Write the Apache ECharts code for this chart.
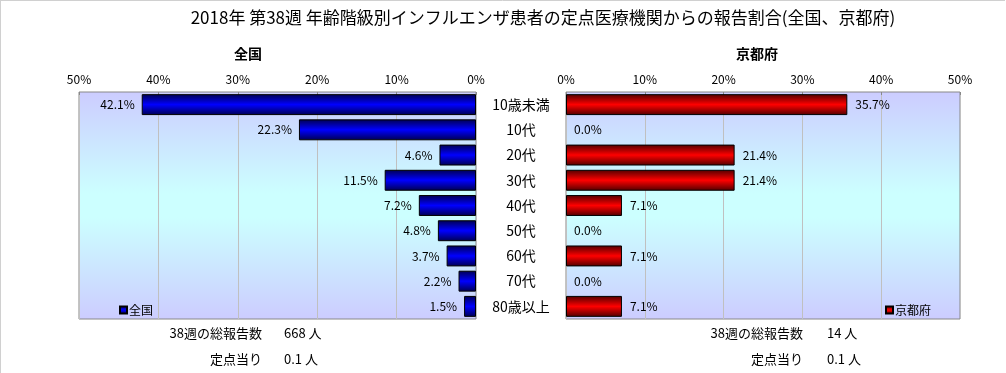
<!DOCTYPE html>
<html>
<head>
<meta charset="utf-8">
<script src="https://cdn.jsdelivr.net/npm/echarts@6/dist/echarts.min.js"></script>
<style>
html,body{margin:0;padding:0;background:#fff;}
#c{width:1006px;height:373px;}
</style>
</head>
<body>
<div id="c"></div>
<script>
var categories = ['10歳未満','10代','20代','30代','40代','50代','60代','70代','80歳以上'];
var nationalValues = [42.1,22.3,4.6,11.5,7.2,4.8,3.7,2.2,1.5];
var kyotoValues = [35.7,0.0,21.4,21.4,7.1,0.0,7.1,0.0,7.1];
var axisTicks = [0,10,20,30,40,50];
var titleText = '2018年 第38週 年齢階級別インフルエンザ患者の定点医療機関からの報告割合(全国、京都府)';
var nationalTotal = '668 人';
var nationalPer = '0.1 人';
var kyotoTotal = '14 人';
var kyotoPer = '0.1 人';

var FONT = '"Noto Sans CJK JP", "Noto Sans", sans-serif';
var chart = echarts.init(document.getElementById('c'), null, {renderer:'canvas'});

function bgGrad(){
  return new echarts.graphic.LinearGradient(0,0,0,1,[
    {offset:0,color:'#ccccff'},{offset:0.45,color:'#ccffff'},{offset:0.55,color:'#ccffff'},{offset:1,color:'#ccccff'}]);
}
function barGrad(dark, bright){
  return new echarts.graphic.LinearGradient(0,0,0,1,[
    {offset:0,color:dark},{offset:0.5,color:bright},{offset:1,color:dark}]);
}
function toItems(arr){
  return arr.map(function(v){
    return v === 0 ? {value:v, itemStyle:{borderWidth:0, color:'rgba(0,0,0,0)'}} : {value:v};
  });
}
var pctFmt = function(p){ return p.value.toFixed(1) + '%'; };

var xAxisCommon = {
  type:'value', position:'top', min:0, max:axisTicks[axisTicks.length-1], interval:10,
  axisLine:{show:false},
  axisTick:{show:true, inside:true, length:3, lineStyle:{color:'#888'}},
  splitLine:{show:true, lineStyle:{color:'#c0c0c0', width:1}},
  axisLabel:{formatter:'{value}%', fontSize:12, color:'#000', margin:7, fontFamily:FONT}
};

var option = {
  animation:false,
  backgroundColor:'#fff',
  textStyle:{fontFamily:FONT},
  title:[
    {text:titleText, left:538, textAlign:'center', top:4, textStyle:{fontSize:17, fontWeight:'normal', color:'#000', fontFamily:FONT}},
    {text:'全国', left:243, textAlign:'center', top:42, textStyle:{fontSize:14, fontWeight:'bold', color:'#000', fontFamily:FONT}},
    {text:'京都府', left:752, textAlign:'center', top:42, textStyle:{fontSize:14, fontWeight:'bold', color:'#000', fontFamily:FONT}}
  ],
  legend:[
    {data:['全国'], left:114, top:299, itemWidth:7, itemHeight:7, icon:'rect', itemGap:2,
     textStyle:{fontSize:12, color:'#000', padding:[0,0,0,-3]}},
    {data:['京都府'], left:880, top:299, itemWidth:7, itemHeight:7, icon:'rect', itemGap:2,
     textStyle:{fontSize:12, color:'#000', padding:[0,0,0,-3]}}
  ],
  grid:[
    {left:79, right:530, top:92, bottom:54, show:true, backgroundColor:bgGrad(), borderColor:'#888', borderWidth:1},
    {left:566, right:46, top:92, bottom:54, show:true, backgroundColor:bgGrad(), borderColor:'#888', borderWidth:1}
  ],
  xAxis:[
    Object.assign({}, xAxisCommon, {gridIndex:0, inverse:true}),
    Object.assign({}, xAxisCommon, {gridIndex:1})
  ],
  yAxis:[
    {type:'category', gridIndex:0, data:categories, inverse:true, axisLine:{show:false}, axisTick:{show:false}, axisLabel:{show:false}},
    {type:'category', gridIndex:1, data:categories, inverse:true, axisLine:{show:false}, axisTick:{show:false},
     axisLabel:{show:true, align:'center', margin:45, fontSize:14, color:'#000', fontFamily:FONT}}
  ],
  series:[
    {name:'全国', type:'bar', xAxisIndex:0, yAxisIndex:0, data:toItems(nationalValues), barCategoryGap:'17%',
     itemStyle:{color:barGrad('#000050','#0000ff'), borderColor:'#000', borderWidth:1},
     label:{show:true, position:'left', distance:7, formatter:pctFmt, fontSize:12, color:'#000', fontFamily:FONT}},
    {name:'京都府', type:'bar', xAxisIndex:1, yAxisIndex:1, data:toItems(kyotoValues), barCategoryGap:'17%',
     itemStyle:{color:barGrad('#500000','#ff0000'), borderColor:'#000', borderWidth:1},
     label:{show:true, position:'right', distance:8, formatter:pctFmt, fontSize:12, color:'#000', fontFamily:FONT}}
  ],
  graphic:[
    {type:'line', shape:{x1:0,y1:0.5,x2:1005,y2:0.5}, style:{stroke:'#d0d0d0', lineWidth:1}},
    {type:'line', shape:{x1:0.5,y1:0,x2:0.5,y2:373}, style:{stroke:'#d0d0d0', lineWidth:1}},
    {type:'text', right:1006-262, top:327, style:{text:'38週の総報告数', fill:'#000', font:'13px '+FONT}},
    {type:'text', left:284, top:327, style:{text:nationalTotal, fill:'#000', font:'13px '+FONT}},
    {type:'text', right:1006-262, top:353, style:{text:'定点当り', fill:'#000', font:'13px '+FONT}},
    {type:'text', left:284, top:353, style:{text:nationalPer, fill:'#000', font:'13px '+FONT}},
    {type:'text', right:1006-803, top:327, style:{text:'38週の総報告数', fill:'#000', font:'13px '+FONT}},
    {type:'text', left:827, top:327, style:{text:kyotoTotal, fill:'#000', font:'13px '+FONT}},
    {type:'text', right:1006-803, top:353, style:{text:'定点当り', fill:'#000', font:'13px '+FONT}},
    {type:'text', left:827, top:353, style:{text:kyotoPer, fill:'#000', font:'13px '+FONT}}
  ]
};
chart.setOption(option);
</script>
</body>
</html>
